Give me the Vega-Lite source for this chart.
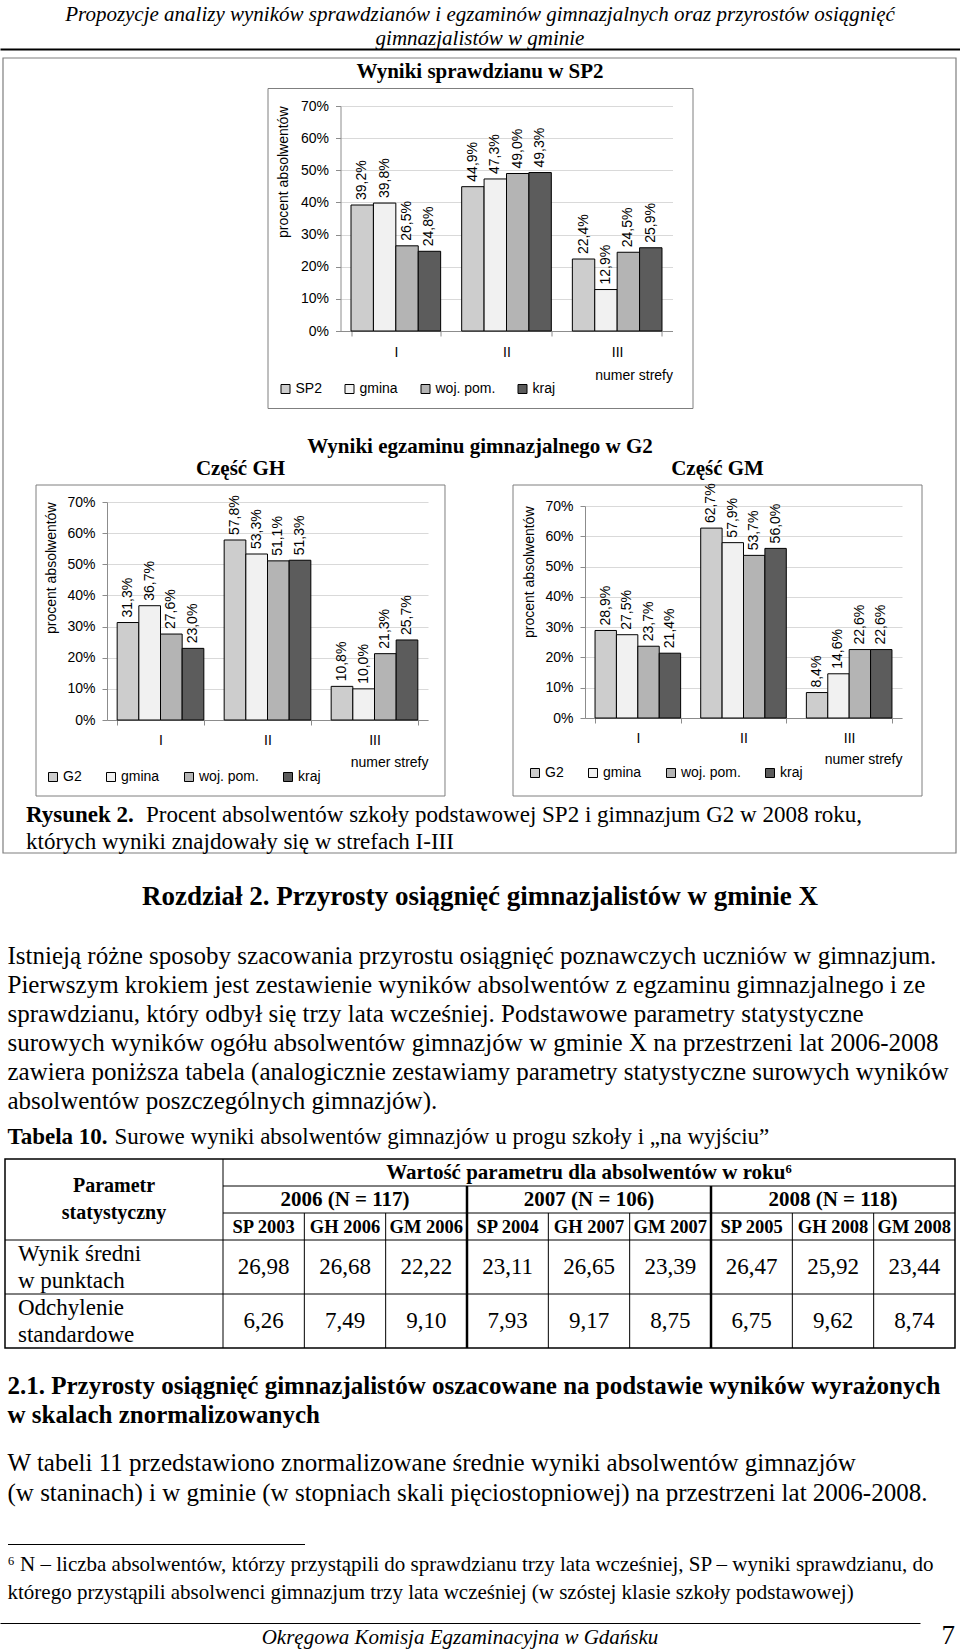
{
  "$schema": "https://vega.github.io/schema/vega-lite/v6.json",
  "background": "white",
  "padding": 0,
  "spacing": 0,
  "bounds": "flush",
  "center": true,
  "resolve": {"scale": {"x": "independent", "y": "independent", "xOffset": "independent", "color": "independent"}, "legend": {"color": "independent"}},
  "config": {
    "view": {"stroke": null},
    "locale": {"number": {"decimal": ",", "thousands": " ", "grouping": [3], "currency": ["", " zł"]}},
    "concat": {"spacing": 0}
  },
  "datasets": {
    "sp2": [
      {"strefa": "I", "seria": "SP2", "v": 0.392},
      {"strefa": "I", "seria": "gmina", "v": 0.398},
      {"strefa": "I", "seria": "woj. pom.", "v": 0.265},
      {"strefa": "I", "seria": "kraj", "v": 0.248},
      {"strefa": "II", "seria": "SP2", "v": 0.449},
      {"strefa": "II", "seria": "gmina", "v": 0.473},
      {"strefa": "II", "seria": "woj. pom.", "v": 0.490},
      {"strefa": "II", "seria": "kraj", "v": 0.493},
      {"strefa": "III", "seria": "SP2", "v": 0.224},
      {"strefa": "III", "seria": "gmina", "v": 0.129},
      {"strefa": "III", "seria": "woj. pom.", "v": 0.245},
      {"strefa": "III", "seria": "kraj", "v": 0.259}
    ],
    "gh": [
      {"strefa": "I", "seria": "G2", "v": 0.313},
      {"strefa": "I", "seria": "gmina", "v": 0.367},
      {"strefa": "I", "seria": "woj. pom.", "v": 0.276},
      {"strefa": "I", "seria": "kraj", "v": 0.230},
      {"strefa": "II", "seria": "G2", "v": 0.578},
      {"strefa": "II", "seria": "gmina", "v": 0.533},
      {"strefa": "II", "seria": "woj. pom.", "v": 0.511},
      {"strefa": "II", "seria": "kraj", "v": 0.513},
      {"strefa": "III", "seria": "G2", "v": 0.108},
      {"strefa": "III", "seria": "gmina", "v": 0.100},
      {"strefa": "III", "seria": "woj. pom.", "v": 0.213},
      {"strefa": "III", "seria": "kraj", "v": 0.257}
    ],
    "gm": [
      {"strefa": "I", "seria": "G2", "v": 0.289},
      {"strefa": "I", "seria": "gmina", "v": 0.275},
      {"strefa": "I", "seria": "woj. pom.", "v": 0.237},
      {"strefa": "I", "seria": "kraj", "v": 0.214},
      {"strefa": "II", "seria": "G2", "v": 0.627},
      {"strefa": "II", "seria": "gmina", "v": 0.579},
      {"strefa": "II", "seria": "woj. pom.", "v": 0.537},
      {"strefa": "II", "seria": "kraj", "v": 0.560},
      {"strefa": "III", "seria": "G2", "v": 0.084},
      {"strefa": "III", "seria": "gmina", "v": 0.146},
      {"strefa": "III", "seria": "woj. pom.", "v": 0.226},
      {"strefa": "III", "seria": "kraj", "v": 0.226}
    ],
    "tabvals": [
      {"c": "SP 2003", "r": "d1a", "v": 26.98}, {"c": "GH 2006", "r": "d1a", "v": 26.68}, {"c": "GM 2006", "r": "d1a", "v": 22.22},
      {"c": "SP 2004", "r": "d1a", "v": 23.11}, {"c": "GH 2007", "r": "d1a", "v": 26.65}, {"c": "GM 2007", "r": "d1a", "v": 23.39},
      {"c": "SP 2005", "r": "d1a", "v": 26.47}, {"c": "GH 2008", "r": "d1a", "v": 25.92}, {"c": "GM 2008", "r": "d1a", "v": 23.44},
      {"c": "SP 2003", "r": "d2a", "v": 6.26}, {"c": "GH 2006", "r": "d2a", "v": 7.49}, {"c": "GM 2006", "r": "d2a", "v": 9.10},
      {"c": "SP 2004", "r": "d2a", "v": 7.93}, {"c": "GH 2007", "r": "d2a", "v": 9.17}, {"c": "GM 2007", "r": "d2a", "v": 8.75},
      {"c": "SP 2005", "r": "d2a", "v": 6.75}, {"c": "GH 2008", "r": "d2a", "v": 9.62}, {"c": "GM 2008", "r": "d2a", "v": 8.74}
    ]
  },
  "vconcat": [
    {
      "width": 960, "height": 88,
      "resolve": {"scale": {"x": "independent", "y": "independent"}},
      "layer": [
        {
          "data": {"values": [
            {"line": 1, "t": "Propozycje analizy wyników sprawdzianów i egzaminów gimnazjalnych oraz przyrostów osiągnięć"},
            {"line": 2, "t": "gimnazjalistów w gminie"}
          ]},
          "mark": {"type": "text", "font": "Liberation Serif", "fontStyle": "italic", "fontSize": 21, "baseline": "middle", "align": "center", "color": "black"},
          "encoding": {
            "x": {"datum": 0.5, "type": "quantitative", "scale": {"domain": [0, 1], "nice": false, "zero": false},
                  "axis": {"orient": "bottom", "offset": -39, "domain": true, "domainColor": "black", "domainWidth": 2, "ticks": false, "labels": false, "grid": false, "title": null}},
            "y": {"field": "line", "type": "ordinal", "scale": {"type": "point", "padding": 0, "range": [15, 39]}, "axis": null},
            "text": {"field": "t"}
          }
        },
        {
          "data": {"values": [{"ramka": "rysunek"}]},
          "mark": {"type": "rect", "fill": "white", "fillOpacity": 0, "stroke": "#7f7f7f", "strokeWidth": 1.2},
          "encoding": {
            "x": {"datum": 0, "type": "quantitative", "scale": {"domain": [0, 1], "range": [3, 956], "nice": false, "zero": false}, "axis": null},
            "x2": {"datum": 1},
            "y": {"datum": 0, "type": "quantitative", "scale": {"domain": [0, 1], "range": [58, 853], "nice": false, "zero": false}, "axis": null},
            "y2": {"datum": 1}
          }
        }
      ]
    },
    {
      "width": 425, "height": 320,
      "view": {"stroke": "#7f7f7f", "strokeWidth": 1},
      "title": {"text": "Wyniki sprawdzianu w SP2", "font": "Liberation Serif", "fontSize": 21, "fontWeight": "bold", "color": "black", "anchor": "middle", "frame": "group", "offset": 6},
      "data": {"name": "sp2"},
      "encoding": {
        "x": {"field": "strefa", "type": "nominal", "sort": ["I", "II", "III"], "title": "numer strefy",
              "scale": {"type": "band", "range": [73, 405], "paddingInner": 0.19, "paddingOuter": 0.095},
              "axis": {"orient": "bottom", "offset": -77, "labelAngle": 0, "tickBand": "extent", "grid": false, "domainColor": "#8c8c8c", "tickColor": "#8c8c8c", "tickSize": 5, "labelPadding": 9, "labelFont": "Liberation Sans", "labelFontSize": 14, "labelColor": "black", "titleFont": "Liberation Sans", "titleFontSize": 14, "titleFontWeight": "normal", "titleColor": "black", "titleAnchor": "end", "titlePadding": 9}},
        "xOffset": {"field": "seria", "type": "nominal", "sort": ["SP2", "gmina", "woj. pom.", "kraj"], "scale": {"paddingInner": 0, "paddingOuter": 0}},
        "y": {"field": "v", "type": "quantitative", "title": "procent absolwentów",
              "scale": {"domain": [0, 0.7], "range": [243, 18], "nice": false},
              "axis": {"offset": -73, "format": ".0%", "values": [0, 0.1, 0.2, 0.3, 0.4, 0.5, 0.6, 0.7], "grid": true, "gridColor": "#d9d9d9", "domainColor": "#8c8c8c", "tickColor": "#8c8c8c", "tickSize": 5, "labelPadding": 7, "labelFont": "Liberation Sans", "labelFontSize": 14, "labelColor": "black", "titleFont": "Liberation Sans", "titleFontSize": 14, "titleFontWeight": "normal", "titleColor": "black", "titleAnchor": "end", "titlePadding": 10}}
      },
      "layer": [
        {
          "mark": {"type": "bar", "stroke": "black", "strokeWidth": 1},
          "encoding": {
            "color": {"field": "seria", "type": "nominal",
                      "scale": {"domain": ["SP2", "gmina", "woj. pom.", "kraj"], "range": ["#cdcdcd", "#f1f1f1", "#b4b4b4", "#5c5c5c"]},
                      "legend": {"title": null, "orient": "none", "legendX": 11, "legendY": 294, "direction": "horizontal", "columns": 4, "symbolType": "square", "symbolSize": 81, "symbolStrokeColor": "black", "symbolStrokeWidth": 1, "labelFont": "Liberation Sans", "labelFontSize": 14, "labelColor": "black", "labelOffset": 3, "columnPadding": 20, "padding": 0}}
          }
        },
        {
          "mark": {"type": "text", "angle": 270, "align": "left", "baseline": "middle", "dx": 5, "font": "Liberation Sans", "fontSize": 14, "color": "black"},
          "encoding": {"text": {"field": "v", "type": "quantitative", "format": ".1%"}}
        }
      ]
    },
    {
      "width": 960, "height": 77,
      "layer": [
        {
          "data": {"values": [{"t": "Wyniki egzaminu gimnazjalnego w G2"}]},
          "mark": {"type": "text", "font": "Liberation Serif", "fontSize": 21, "fontWeight": "bold", "baseline": "middle", "color": "black"},
          "encoding": {"text": {"field": "t"}}
        },
        {
          "data": {"values": [{"t": "Część GH", "czesc": "GH"}, {"t": "Część GM", "czesc": "GM"}]},
          "mark": {"type": "text", "font": "Liberation Serif", "fontSize": 21, "fontWeight": "bold", "baseline": "middle", "dy": 22, "color": "black"},
          "encoding": {
            "x": {"field": "czesc", "type": "nominal", "scale": {"type": "band", "domain": ["GH", "GM"], "range": [36, 922], "paddingInner": 0.1426, "paddingOuter": 0}, "axis": null},
            "text": {"field": "t"}
          }
        }
      ]
    },
    {
      "width": 960, "height": 311,
      "resolve": {"scale": {"x": "independent", "y": "independent", "xOffset": "independent", "color": "independent"}, "axis": {"x": "independent", "y": "independent"}, "legend": {"color": "independent"}},
      "layer": [
        {
          "data": {"values": [{"czesc": "GH"}, {"czesc": "GM"}]},
          "mark": {"type": "rect", "fill": "white", "fillOpacity": 0, "stroke": "#7f7f7f", "strokeWidth": 1},
          "encoding": {
            "x": {"field": "czesc", "type": "nominal", "scale": {"type": "band", "domain": ["GH", "GM"], "range": [36, 922], "paddingInner": 0.1426, "paddingOuter": 0}, "axis": null}
          }
        },
        {
          "data": {"name": "gh"},
          "encoding": {
            "x": {"field": "strefa", "type": "nominal", "sort": ["I", "II", "III"], "title": "numer strefy",
                  "scale": {"type": "band", "range": [107, 428], "paddingInner": 0.19, "paddingOuter": 0.095},
                  "axis": {"orient": "bottom", "offset": -76, "labelAngle": 0, "tickBand": "extent", "grid": false, "domainColor": "#8c8c8c", "tickColor": "#8c8c8c", "tickSize": 5, "labelPadding": 8, "labelFont": "Liberation Sans", "labelFontSize": 14, "labelColor": "black", "titleFont": "Liberation Sans", "titleFontSize": 14, "titleFontWeight": "normal", "titleColor": "black", "titleAnchor": "end", "titlePadding": 8}},
            "xOffset": {"field": "seria", "type": "nominal", "sort": ["G2", "gmina", "woj. pom.", "kraj"], "scale": {"paddingInner": 0, "paddingOuter": 0}},
            "y": {"field": "v", "type": "quantitative", "title": "procent absolwentów",
                  "scale": {"domain": [0, 0.7], "range": [235, 17], "nice": false},
                  "axis": {"orient": "left", "offset": -107, "format": ".0%", "values": [0, 0.1, 0.2, 0.3, 0.4, 0.5, 0.6, 0.7], "grid": true, "gridColor": "#d9d9d9", "domainColor": "#8c8c8c", "tickColor": "#8c8c8c", "tickSize": 5, "labelPadding": 7, "labelFont": "Liberation Sans", "labelFontSize": 14, "labelColor": "black", "titleFont": "Liberation Sans", "titleFontSize": 14, "titleFontWeight": "normal", "titleColor": "black", "titleAnchor": "end", "titlePadding": 8}}
          },
          "layer": [
            {
              "mark": {"type": "bar", "stroke": "black", "strokeWidth": 1},
              "encoding": {
                "color": {"field": "seria", "type": "nominal",
                          "scale": {"domain": ["G2", "gmina", "woj. pom.", "kraj"], "range": ["#cdcdcd", "#f1f1f1", "#b4b4b4", "#5c5c5c"]},
                          "legend": {"title": null, "orient": "none", "legendX": 46, "legendY": 285, "direction": "horizontal", "columns": 4, "symbolType": "square", "symbolSize": 81, "symbolStrokeColor": "black", "symbolStrokeWidth": 1, "labelFont": "Liberation Sans", "labelFontSize": 14, "labelColor": "black", "labelOffset": 3, "columnPadding": 22, "padding": 0}}
              }
            },
            {
              "mark": {"type": "text", "angle": 270, "align": "left", "baseline": "middle", "dx": 5, "font": "Liberation Sans", "fontSize": 14, "color": "black"},
              "encoding": {"text": {"field": "v", "type": "quantitative", "format": ".1%"}}
            }
          ]
        },
        {
          "data": {"name": "gm"},
          "encoding": {
            "x": {"field": "strefa", "type": "nominal", "sort": ["I", "II", "III"], "title": "numer strefy",
                  "scale": {"type": "band", "range": [585, 902], "paddingInner": 0.19, "paddingOuter": 0.095},
                  "axis": {"orient": "bottom", "offset": -78, "labelAngle": 0, "tickBand": "extent", "grid": false, "domainColor": "#8c8c8c", "tickColor": "#8c8c8c", "tickSize": 5, "labelPadding": 8, "labelFont": "Liberation Sans", "labelFontSize": 14, "labelColor": "black", "titleFont": "Liberation Sans", "titleFontSize": 14, "titleFontWeight": "normal", "titleColor": "black", "titleAnchor": "end", "titlePadding": 7}},
            "xOffset": {"field": "seria", "type": "nominal", "sort": ["G2", "gmina", "woj. pom.", "kraj"], "scale": {"paddingInner": 0, "paddingOuter": 0}},
            "y": {"field": "v", "type": "quantitative", "title": "procent absolwentów",
                  "scale": {"domain": [0, 0.7], "range": [233, 21], "nice": false},
                  "axis": {"orient": "left", "offset": -585, "format": ".0%", "values": [0, 0.1, 0.2, 0.3, 0.4, 0.5, 0.6, 0.7], "grid": true, "gridColor": "#d9d9d9", "domainColor": "#8c8c8c", "tickColor": "#8c8c8c", "tickSize": 5, "labelPadding": 7, "labelFont": "Liberation Sans", "labelFontSize": 14, "labelColor": "black", "titleFont": "Liberation Sans", "titleFontSize": 14, "titleFontWeight": "normal", "titleColor": "black", "titleAnchor": "end", "titlePadding": 8}}
          },
          "layer": [
            {
              "mark": {"type": "bar", "stroke": "black", "strokeWidth": 1},
              "encoding": {
                "color": {"field": "seria", "type": "nominal",
                          "scale": {"domain": ["G2", "gmina", "woj. pom.", "kraj"], "range": ["#cdcdcd", "#f1f1f1", "#b4b4b4", "#5c5c5c"]},
                          "legend": {"title": null, "orient": "none", "legendX": 528, "legendY": 281, "direction": "horizontal", "columns": 4, "symbolType": "square", "symbolSize": 81, "symbolStrokeColor": "black", "symbolStrokeWidth": 1, "labelFont": "Liberation Sans", "labelFontSize": 14, "labelColor": "black", "labelOffset": 3, "columnPadding": 22, "padding": 0}}
              }
            },
            {
              "mark": {"type": "text", "angle": 270, "align": "left", "baseline": "middle", "dx": 5, "font": "Liberation Sans", "fontSize": 14, "color": "black"},
              "encoding": {"text": {"field": "v", "type": "quantitative", "format": ".1%"}}
            }
          ]
        }
      ]
    },
    {
      "width": 908, "height": 57,
      "layer": [
        {
          "data": {"values": [{"line": 1, "t": "Rysunek 2."}]},
          "mark": {"type": "text", "font": "Liberation Serif", "fontSize": 23, "fontWeight": "bold", "align": "left", "baseline": "middle", "color": "black"},
          "encoding": {"x": {"value": 0}, "y": {"field": "line", "type": "ordinal", "scale": {"type": "point", "padding": 0, "domain": [1, 2], "range": [19, 46]}, "axis": null}, "text": {"field": "t"}}
        },
        {
          "data": {"values": [{"line": 1, "t": "Procent absolwentów szkoły podstawowej SP2 i gimnazjum G2 w 2008 roku,"}]},
          "mark": {"type": "text", "font": "Liberation Serif", "fontSize": 23, "align": "left", "baseline": "middle", "dx": 120, "color": "black"},
          "encoding": {"x": {"value": 0}, "y": {"field": "line", "type": "ordinal", "scale": {"type": "point", "padding": 0, "domain": [1, 2], "range": [19, 46]}, "axis": null}, "text": {"field": "t"}}
        },
        {
          "data": {"values": [{"line": 2, "t": "których wyniki znajdowały się w strefach I-III"}]},
          "mark": {"type": "text", "font": "Liberation Serif", "fontSize": 23, "align": "left", "baseline": "middle", "color": "black"},
          "encoding": {"x": {"value": 0}, "y": {"field": "line", "type": "ordinal", "scale": {"type": "point", "padding": 0, "domain": [1, 2], "range": [19, 46]}, "axis": null}, "text": {"field": "t"}}
        }
      ]
    },
    {
      "width": 960, "height": 88,
      "data": {"values": [{"t": "Rozdział 2. Przyrosty osiągnięć gimnazjalistów w gminie X"}]},
      "mark": {"type": "text", "font": "Liberation Serif", "fontSize": 27, "fontWeight": "bold", "baseline": "middle", "color": "black"},
      "encoding": {"text": {"field": "t"}}
    },
    {
      "width": 945, "height": 174,
      "data": {"values": [
        {"line": 1, "t": "Istnieją różne sposoby szacowania przyrostu osiągnięć poznawczych uczniów w gimnazjum."},
        {"line": 2, "t": "Pierwszym krokiem jest zestawienie wyników absolwentów z egzaminu gimnazjalnego i ze"},
        {"line": 3, "t": "sprawdzianu, który odbył się trzy lata wcześniej. Podstawowe parametry statystyczne"},
        {"line": 4, "t": "surowych wyników ogółu absolwentów gimnazjów w gminie X na przestrzeni lat 2006-2008"},
        {"line": 5, "t": "zawiera poniższa tabela (analogicznie zestawiamy parametry statystyczne surowych wyników"},
        {"line": 6, "t": "absolwentów poszczególnych gimnazjów)."}
      ]},
      "mark": {"type": "text", "font": "Liberation Serif", "fontSize": 25, "align": "left", "baseline": "middle", "color": "black"},
      "encoding": {"x": {"value": 0}, "y": {"field": "line", "type": "ordinal", "axis": null}, "text": {"field": "t"}}
    },
    {
      "width": 945, "height": 44,
      "layer": [
        {
          "data": {"values": [{"t": "Tabela 10."}]},
          "mark": {"type": "text", "font": "Liberation Serif", "fontSize": 23, "fontWeight": "bold", "align": "left", "baseline": "middle", "color": "black"},
          "encoding": {"x": {"value": 0}, "text": {"field": "t"}}
        },
        {
          "data": {"values": [{"t": "Surowe wyniki absolwentów gimnazjów u progu szkoły i „na wyjściu”"}]},
          "mark": {"type": "text", "font": "Liberation Serif", "fontSize": 23, "align": "left", "baseline": "middle", "dx": 107, "color": "black"},
          "encoding": {"x": {"value": 0}, "text": {"field": "t"}}
        }
      ]
    },
    {
      "width": 950, "height": 189,
      "view": {"stroke": "black", "strokeWidth": 1.5},
      "resolve": {"scale": {"x": "independent"}},
      "layer": [
        {
          "data": {"values": [{"k": "param", "t": "Parametr", "r": "h1"}, {"k": "param", "t": "statystyczny", "r": "h2"}]},
          "mark": {"type": "text", "font": "Liberation Serif", "fontSize": 20, "fontWeight": "bold", "baseline": "middle", "color": "black"},
          "encoding": {
            "x": {"field": "k", "type": "nominal", "scale": {"type": "band", "domain": ["param"], "range": [0, 218], "paddingInner": 0, "paddingOuter": 0}, "axis": null},
            "y": {"field": "r", "type": "ordinal", "bandPosition": 1, "scale": {"type": "band", "domain": ["h1", "h2", "h3", "d1a", "d1b", "d2a", "d2b"], "paddingInner": 0, "paddingOuter": 0}, "axis": null},
            "text": {"field": "t"}
          }
        },
        {
          "data": {"values": [{"k": "param", "t": "Wynik średni", "r": "d1a"}, {"k": "param", "t": "w punktach", "r": "d1b"}, {"k": "param", "t": "Odchylenie", "r": "d2a"}, {"k": "param", "t": "standardowe", "r": "d2b"}]},
          "mark": {"type": "text", "font": "Liberation Serif", "fontSize": 23, "align": "left", "baseline": "middle", "dx": 13, "color": "black"},
          "encoding": {
            "x": {"field": "k", "type": "nominal", "bandPosition": 0, "scale": {"type": "band", "domain": ["param"], "range": [0, 218], "paddingInner": 0, "paddingOuter": 0}, "axis": null},
            "y": {"field": "r", "type": "ordinal", "scale": {"type": "band", "domain": ["h1", "h2", "h3", "d1a", "d1b", "d2a", "d2b"], "paddingInner": 0, "paddingOuter": 0}, "axis": null},
            "text": {"field": "t"}
          }
        },
        {
          "data": {"values": [{"t": "Wartość parametru dla absolwentów w roku⁶", "c": "GH 2007", "r": "h1"}, {"t": "2006 (N = 117)", "c": "GH 2006", "r": "h2"}, {"t": "2007 (N = 106)", "c": "GH 2007", "r": "h2"}, {"t": "2008 (N = 118)", "c": "GH 2008", "r": "h2"}]},
          "mark": {"type": "text", "font": "Liberation Serif", "fontSize": 21, "fontWeight": "bold", "baseline": "middle", "color": "black"},
          "encoding": {
            "x": {"field": "c", "type": "nominal", "scale": {"type": "band", "domain": ["SP 2003", "GH 2006", "GM 2006", "SP 2004", "GH 2007", "GM 2007", "SP 2005", "GH 2008", "GM 2008"], "range": [218, 950], "paddingInner": 0, "paddingOuter": 0}, "axis": null},
            "y": {"field": "r", "type": "ordinal", "scale": {"type": "band", "domain": ["h1", "h2", "h3", "d1a", "d1b", "d2a", "d2b"], "paddingInner": 0, "paddingOuter": 0}, "axis": null},
            "text": {"field": "t"}
          }
        },
        {
          "data": {"values": [{"c": "SP 2003", "r": "h3"}, {"c": "GH 2006", "r": "h3"}, {"c": "GM 2006", "r": "h3"}, {"c": "SP 2004", "r": "h3"}, {"c": "GH 2007", "r": "h3"}, {"c": "GM 2007", "r": "h3"}, {"c": "SP 2005", "r": "h3"}, {"c": "GH 2008", "r": "h3"}, {"c": "GM 2008", "r": "h3"}]},
          "mark": {"type": "text", "font": "Liberation Serif", "fontSize": 18.5, "fontWeight": "bold", "baseline": "middle", "color": "black"},
          "encoding": {
            "x": {"field": "c", "type": "nominal", "scale": {"type": "band", "domain": ["SP 2003", "GH 2006", "GM 2006", "SP 2004", "GH 2007", "GM 2007", "SP 2005", "GH 2008", "GM 2008"], "range": [218, 950], "paddingInner": 0, "paddingOuter": 0}, "axis": null},
            "y": {"field": "r", "type": "ordinal", "scale": {"type": "band", "domain": ["h1", "h2", "h3", "d1a", "d1b", "d2a", "d2b"], "paddingInner": 0, "paddingOuter": 0}, "axis": null},
            "text": {"field": "c"}
          }
        },
        {
          "data": {"name": "tabvals"},
          "mark": {"type": "text", "font": "Liberation Serif", "fontSize": 23, "baseline": "middle", "color": "black"},
          "encoding": {
            "x": {"field": "c", "type": "nominal", "scale": {"type": "band", "domain": ["SP 2003", "GH 2006", "GM 2006", "SP 2004", "GH 2007", "GM 2007", "SP 2005", "GH 2008", "GM 2008"], "range": [218, 950], "paddingInner": 0, "paddingOuter": 0}, "axis": null},
            "y": {"field": "r", "type": "ordinal", "bandPosition": 1, "scale": {"type": "band", "domain": ["h1", "h2", "h3", "d1a", "d1b", "d2a", "d2b"], "paddingInner": 0, "paddingOuter": 0}, "axis": null},
            "text": {"field": "v", "type": "quantitative", "format": ".2f"}
          }
        },
        {
          "data": {"values": [{"r": "d1a"}, {"r": "d2a"}]},
          "mark": {"type": "rule", "color": "black", "strokeWidth": 1},
          "encoding": {
            "y": {"field": "r", "type": "ordinal", "bandPosition": 0, "scale": {"type": "band", "domain": ["h1", "h2", "h3", "d1a", "d1b", "d2a", "d2b"], "paddingInner": 0, "paddingOuter": 0}, "axis": null}
          }
        },
        {
          "data": {"values": [{"c": "SP 2003", "r": "h2"}, {"c": "SP 2003", "r": "h3"}]},
          "mark": {"type": "rule", "color": "black", "strokeWidth": 1},
          "encoding": {
            "x": {"field": "c", "type": "nominal", "bandPosition": 0, "scale": {"type": "band", "domain": ["SP 2003", "GH 2006", "GM 2006", "SP 2004", "GH 2007", "GM 2007", "SP 2005", "GH 2008", "GM 2008"], "range": [218, 950], "paddingInner": 0, "paddingOuter": 0}, "axis": null},
            "x2": {"value": "width"},
            "y": {"field": "r", "type": "ordinal", "bandPosition": 0, "scale": {"type": "band", "domain": ["h1", "h2", "h3", "d1a", "d1b", "d2a", "d2b"], "paddingInner": 0, "paddingOuter": 0}, "axis": null}
          }
        },
        {
          "data": {"values": [{"c": "SP 2003", "r": "h1"}, {"c": "GH 2006", "r": "h3"}, {"c": "GM 2006", "r": "h3"}, {"c": "GH 2007", "r": "h3"}, {"c": "GM 2007", "r": "h3"}, {"c": "GH 2008", "r": "h3"}, {"c": "GM 2008", "r": "h3"}]},
          "mark": {"type": "rule", "color": "black", "strokeWidth": 1},
          "encoding": {
            "x": {"field": "c", "type": "nominal", "bandPosition": 0, "scale": {"type": "band", "domain": ["SP 2003", "GH 2006", "GM 2006", "SP 2004", "GH 2007", "GM 2007", "SP 2005", "GH 2008", "GM 2008"], "range": [218, 950], "paddingInner": 0, "paddingOuter": 0}, "axis": null},
            "y": {"field": "r", "type": "ordinal", "bandPosition": 0, "scale": {"type": "band", "domain": ["h1", "h2", "h3", "d1a", "d1b", "d2a", "d2b"], "paddingInner": 0, "paddingOuter": 0}, "axis": null},
            "y2": {"value": "height"}
          }
        },
        {
          "data": {"values": [{"c": "SP 2004", "r": "h2"}, {"c": "SP 2005", "r": "h2"}]},
          "mark": {"type": "rule", "color": "black", "strokeWidth": 2.5},
          "encoding": {
            "x": {"field": "c", "type": "nominal", "bandPosition": 0, "scale": {"type": "band", "domain": ["SP 2003", "GH 2006", "GM 2006", "SP 2004", "GH 2007", "GM 2007", "SP 2005", "GH 2008", "GM 2008"], "range": [218, 950], "paddingInner": 0, "paddingOuter": 0}, "axis": null},
            "y": {"field": "r", "type": "ordinal", "bandPosition": 0, "scale": {"type": "band", "domain": ["h1", "h2", "h3", "d1a", "d1b", "d2a", "d2b"], "paddingInner": 0, "paddingOuter": 0}, "axis": null},
            "y2": {"value": "height"}
          }
        }
      ]
    },
    {
      "width": 945, "height": 86,
      "data": {"values": [
        {"line": 1, "t": "2.1. Przyrosty osiągnięć gimnazjalistów oszacowane na podstawie wyników wyrażonych"},
        {"line": 2, "t": "w skalach znormalizowanych"}
      ]},
      "mark": {"type": "text", "font": "Liberation Serif", "fontSize": 25, "fontWeight": "bold", "align": "left", "baseline": "middle", "color": "black"},
      "encoding": {"x": {"value": 0}, "y": {"field": "line", "type": "ordinal", "scale": {"type": "point", "padding": 0, "range": [38, 67]}, "axis": null}, "text": {"field": "t"}}
    },
    {
      "width": 945, "height": 86,
      "data": {"values": [
        {"line": 1, "t": "W tabeli 11 przedstawiono znormalizowane średnie wyniki absolwentów gimnazjów"},
        {"line": 2, "t": "(w staninach) i w gminie (w stopniach skali pięciostopniowej) na przestrzeni lat 2006-2008."}
      ]},
      "mark": {"type": "text", "font": "Liberation Serif", "fontSize": 25, "align": "left", "baseline": "middle", "color": "black"},
      "encoding": {"x": {"value": 0}, "y": {"field": "line", "type": "ordinal", "scale": {"type": "point", "padding": 0, "range": [29, 59]}, "axis": null}, "text": {"field": "t"}}
    },
    {
      "width": 945, "height": 78,
      "data": {"values": [
        {"line": 1, "t": "⁶ N – liczba absolwentów, którzy przystąpili do sprawdzianu trzy lata wcześniej, SP – wyniki sprawdzianu, do"},
        {"line": 2, "t": "którego przystąpili absolwenci gimnazjum trzy lata wcześniej (w szóstej klasie szkoły podstawowej)"}
      ]},
      "mark": {"type": "text", "font": "Liberation Serif", "fontSize": 21, "align": "left", "baseline": "middle", "color": "black"},
      "encoding": {
        "x": {"datum": 0, "type": "quantitative", "scale": {"domain": [0, 1], "range": [0, 297], "nice": false, "zero": false},
              "axis": {"orient": "top", "offset": -24, "domain": true, "domainColor": "black", "domainWidth": 1, "ticks": false, "labels": false, "grid": false, "title": null}},
        "y": {"field": "line", "type": "ordinal", "scale": {"type": "point", "padding": 0, "range": [45, 73]}, "axis": null},
        "text": {"field": "t"}
      }
    },
    {
      "width": 960, "height": 52,
      "layer": [
        {
          "data": {"values": [{"t": "Okręgowa Komisja Egzaminacyjna w Gdańsku"}]},
          "mark": {"type": "text", "font": "Liberation Serif", "fontStyle": "italic", "fontSize": 21, "baseline": "middle", "align": "center", "dy": 14, "color": "black"},
          "encoding": {
            "x": {"datum": 0.5, "type": "quantitative", "scale": {"domain": [0, 1], "range": [0, 920], "nice": false, "zero": false},
                  "axis": {"orient": "top", "offset": -25, "domain": true, "domainColor": "black", "domainWidth": 1, "ticks": false, "labels": false, "grid": false, "title": null}},
            "text": {"field": "t"}
          }
        },
        {
          "data": {"values": [{"t": "7"}]},
          "mark": {"type": "text", "font": "Liberation Serif", "fontSize": 27, "baseline": "middle", "align": "right", "dx": -5, "dy": 12, "color": "black"},
          "encoding": {"x": {"value": "width"}, "text": {"field": "t"}}
        }
      ]
    }
  ]
}
